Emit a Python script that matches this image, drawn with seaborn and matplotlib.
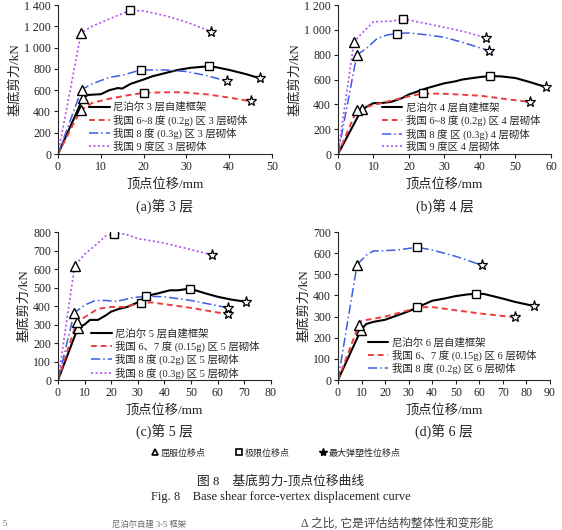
import matplotlib
matplotlib.use("Agg")
import matplotlib.pyplot as plt
import matplotlib.ticker as mticker
from matplotlib.lines import Line2D
import seaborn as sns
import pandas as pd

sns.set_style("ticks")
plt.rcParams['font.family'] = ['Liberation Serif', 'Noto Sans CJK SC', 'DejaVu Sans']
plt.rcParams['axes.unicode_minus'] = False

# ---- data (displacement mm, base shear kN) ----
# (a) 3 storey
a_nep_x = [0, 5.9, 7, 9, 10, 12, 14, 15, 17, 20, 22, 25, 28, 31, 35.3, 37, 40, 44, 47.3]
a_nep_y = [0, 530, 555, 560, 562, 600, 620, 615, 660, 700, 730, 760, 790, 810, 825, 815, 790, 750, 710]
a_c68_x = [0, 5.3, 8, 12, 16, 20, 25, 29, 35, 40, 45.2]
a_c68_y = [0, 415, 480, 520, 550, 575, 580, 580, 560, 530, 495]
a_c8_x = [0, 5.5, 8, 12, 15, 19.3, 25, 30, 35, 39.5]
a_c8_y = [0, 605, 660, 720, 740, 790, 790, 775, 735, 683]
a_c9_x = [0, 5.4, 8, 12, 16.9, 20, 25, 30, 35.8]
a_c9_y = [0, 1140, 1200, 1270, 1350, 1345, 1300, 1240, 1150]
# (b) 4 storey
b_nep_x = [0, 6.7, 10, 12, 15, 18, 20, 25, 30, 33, 35, 40, 42.8, 46, 50, 54, 58.7]
b_nep_y = [0, 360, 410, 410, 420, 450, 480, 530, 570, 585, 600, 620, 628, 625, 612, 580, 538]
b_c68_x = [0, 5.3, 10, 15, 20, 24, 30, 40, 48, 54]
b_c68_y = [0, 355, 395, 430, 465, 488, 485, 470, 440, 420]
b_c8_x = [0, 5.3, 8, 11, 14, 16.6, 20, 25, 30, 35, 42.5]
b_c8_y = [0, 798, 850, 930, 960, 970, 975, 960, 940, 900, 833]
b_c9_x = [0, 4.5, 7, 10, 15, 18.3, 25, 30, 35, 41.7]
b_c9_y = [0, 905, 980, 1065, 1070, 1088, 1050, 1020, 990, 936]
# (c) 5 storey
c_nep_x = [0, 7.5, 10, 12, 15, 18, 20, 23, 26, 30, 33, 35, 38, 42, 45, 49.5, 55, 60, 65, 70.5]
c_nep_y = [0, 283, 300, 325, 325, 350, 370, 385, 395, 420, 450, 460, 470, 485, 485, 494, 470, 450, 435, 423]
c_c67_x = [0, 7, 10, 15, 20, 25, 31, 35, 40, 50, 64]
c_c67_y = [0, 312, 340, 385, 395, 395, 415, 420, 410, 390, 355]
c_c82_x = [0, 6.1, 10, 14, 18, 22, 28, 33.2, 40, 50, 64]
c_c82_y = [0, 363, 405, 430, 430, 425, 445, 453, 450, 430, 390]
c_c83_x = [0, 6.3, 10, 15, 18, 21.1, 25, 30, 40, 50, 57.9]
c_c83_y = [0, 619, 680, 740, 780, 790, 790, 765, 740, 705, 676]
# (d) 6 storey
d_nep_x = [0, 9.8, 12, 15, 20, 25, 30, 34, 38, 40, 45, 50, 55, 58.8, 62, 70, 75, 83.2]
d_nep_y = [0, 238, 265, 275, 285, 305, 325, 345, 365, 375, 385, 397, 405, 408, 407, 385, 370, 350]
d_c67_x = [0, 8.8, 10, 15, 20, 25, 30, 33.6, 40, 50, 60, 75]
d_c67_y = [0, 259, 280, 290, 300, 315, 330, 344, 345, 330, 315, 297]
d_c82_x = [0, 8.1, 12, 15, 20, 25, 33.7, 40, 50, 61.1]
d_c82_y = [0, 546, 590, 610, 612, 615, 628, 615, 585, 543]

labels_a = ["尼泊尔 3 层自建框架", "我国 6~8 度 (0.2g) 区 3 层砌体",
            "我国 8 度 (0.3g) 区 3 层砌体", "我国 9 度区 3 层砌体"]
labels_b = ["尼泊尔 4 层自建框架", "我国 6~8 度 (0.2g) 区 4 层砌体",
            "我国 8 度 区 (0.3g) 4 层砌体", "我国 9 度区 4 层砌体"]
labels_c = ["尼泊尔 5 层自建框架", "我国 6、7 度 (0.15g) 区 5 层砌体",
            "我国 8 度 (0.2g) 区 5 层砌体", "我国 8 度 (0.3g) 区 5 层砌体"]
labels_d = ["尼泊尔 6 层自建框架", "我国 6、7 度 (0.15g) 区 6 层砌体",
            "我国 8 度 (0.2g) 区 6 层砌体"]

colors = ["black", "#ee3b3b", "#3a5fe0", "#b24ff0"]
styles = ["-", (0, (3, 2)), (0, (6, 2, 1, 2)), (0, (1.2, 1.5))]
widths = [1.5, 1.4, 1.1, 1.2]
ink = "#222222"

fig = plt.figure(figsize=(5.62, 5.30), dpi=100)
ax_a = fig.add_axes([0.1032, 0.7094, 0.3808, 0.2811])
ax_b = fig.add_axes([0.6014, 0.7094, 0.3790, 0.2811])
ax_c = fig.add_axes([0.1032, 0.2830, 0.3790, 0.2792])
ax_d = fig.add_axes([0.6014, 0.2830, 0.3772, 0.2792])

# (series, yield index, ultimate index); the last point is the max elasto-plastic point
panels = [
    (ax_a, [(a_nep_x, a_nep_y, 1, 14), (a_c68_x, a_c68_y, 1, 5), (a_c8_x, a_c8_y, 1, 5), (a_c9_x, a_c9_y, 1, 4)],
     labels_a, 50, 1400, 10, 200, (0.145, 0.35), "(a)第 3 层"),
    (ax_b, [(b_nep_x, b_nep_y, 1, 12), (b_c68_x, b_c68_y, 1, 5), (b_c8_x, b_c8_y, 1, 5), (b_c9_x, b_c9_y, 1, 5)],
     labels_b, 60, 1200, 10, 200, (0.205, 0.345), "(b)第 4 层"),
    (ax_c, [(c_nep_x, c_nep_y, 1, 15), (c_c67_x, c_c67_y, 1, 6), (c_c82_x, c_c82_y, 1, 7), (c_c83_x, c_c83_y, 1, 5)],
     labels_c, 80, 800, 10, 100, (0.155, 0.35), "(c)第 5 层"),
    (ax_d, [(d_nep_x, d_nep_y, 1, 13), (d_c67_x, d_c67_y, 1, 7), (d_c82_x, d_c82_y, 1, 6)],
     labels_d, 90, 700, 10, 100, (0.14, 0.29), "(d)第 6 层"),
]

def fmt(v, pos):
    v = int(round(v))
    return f"{v:,}".replace(",", " ")

for ax, series, labels, xmax, ymax, xstep, ystep, lpos, cap in panels:
    for i, (xs, ys, iy, iu) in enumerate(series):
        df = pd.DataFrame({"x": xs, "y": ys})
        sns.lineplot(data=df, x="x", y="y", sort=False, ax=ax, color=colors[i],
                     linestyle=styles[i], linewidth=widths[i], label=labels[i], zorder=2)
        ax.plot(xs[iy], ys[iy], marker="^", ms=6.5, mfc="white", mec="black", mew=1.0, zorder=3)
        ax.plot(xs[iu], ys[iu], marker="s", ms=5.5, mfc="white", mec="black", mew=1.0, zorder=3)
        ax.plot(xs[-1], ys[-1], marker="*", ms=8, mfc="white", mec="black", mew=0.9, zorder=3)
    ax.set_xlim(0, xmax)
    ax.set_ylim(0, ymax)
    ax.xaxis.set_major_locator(mticker.MultipleLocator(xstep))
    ax.yaxis.set_major_locator(mticker.MultipleLocator(ystep))
    ax.yaxis.set_major_formatter(mticker.FuncFormatter(fmt))
    sns.despine(ax=ax)
    ax.tick_params(labelsize=8.5, length=3, width=0.8, pad=2, colors=ink)
    for s in ax.spines.values():
        s.set_linewidth(0.8)
    ax.set_xlabel("顶点位移/mm", fontsize=9.5, labelpad=3, color=ink)
    ax.set_ylabel("基底剪力/kN", fontsize=9.5, labelpad=2, color=ink)
    ax.legend(loc="upper left", bbox_to_anchor=lpos, frameon=False, fontsize=7.5,
              handlelength=2.0, handletextpad=0.3, labelspacing=0.2, borderpad=0, borderaxespad=0)
    ax.text(0.5, -0.35, cap, transform=ax.transAxes, ha="center", va="center",
            fontsize=10, color=ink)

# shared marker key
key = [Line2D([], [], ls="none", marker="^", ms=5, mfc="white", mec="black", mew=1.2, label="屈服位移点"),
       Line2D([], [], ls="none", marker="s", ms=4.5, mfc="white", mec="black", mew=1.2, label="极限位移点"),
       Line2D([], [], ls="none", marker="*", ms=6, mfc="black", mec="black", label="最大弹塑性位移点")]
fig.legend(handles=key, loc="center", bbox_to_anchor=(0.49, 1 - 453 / 530), ncol=3, frameon=False,
           fontsize=6.5, handletextpad=0.1, columnspacing=3.2, handlelength=1.0)

fig.text(0.5, 1 - 481 / 530, "图 8    基底剪力-顶点位移曲线", ha="center", va="center", fontsize=9.2, color=ink)
fig.text(0.5, 1 - 497 / 530, "Fig. 8    Base shear force-vertex displacement curve", ha="center", va="center",
         fontsize=9, color=ink)
# body text at the page bottom
fig.text(0.005, 0.003, "5", ha="left", va="bottom", fontsize=6, color="#666666")
fig.text(0.2, 0.003, "尼泊尔自建 3-5 框架", ha="left", va="bottom", fontsize=6, color="#666666")
fig.text(0.535, 0.001, "Δ 之比, 它是评估结构整体性和变形能", ha="left", va="bottom", fontsize=8.5,
         color="#444444")

fig.savefig("out.png", dpi=100)
